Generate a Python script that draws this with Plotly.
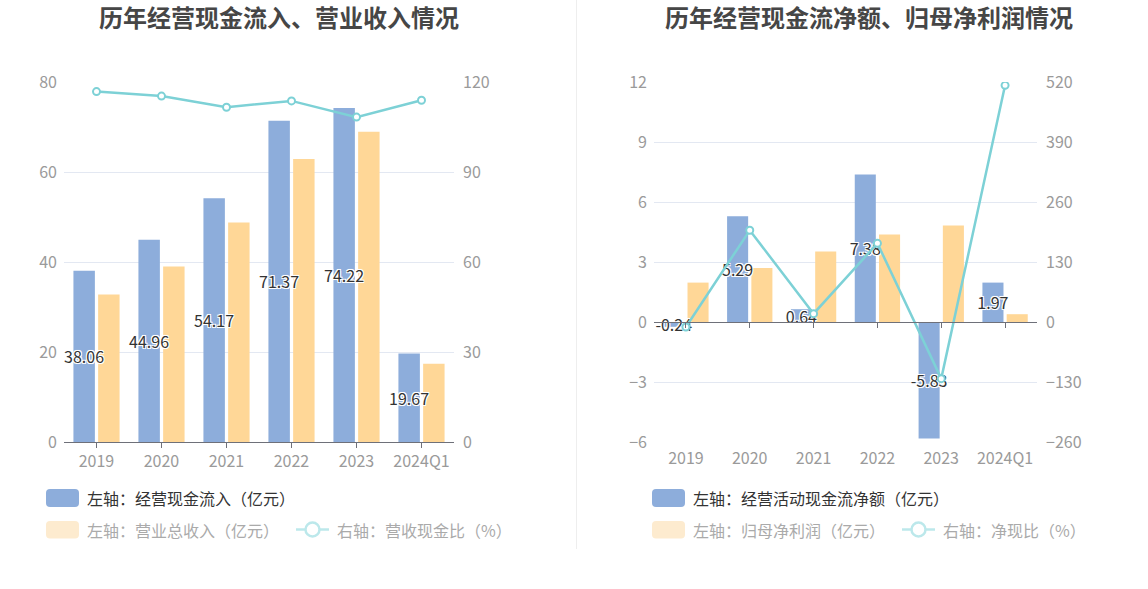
import plotly.graph_objects as go

# ---------------- data ----------------
categories = ["2019", "2020", "2021", "2022", "2023", "2024Q1"]

cash_inflow = [38.06, 44.96, 54.17, 71.37, 74.22, 19.67]          # 经营现金流入（亿元）
total_revenue = [32.8, 39.0, 48.8, 62.9, 68.96, 17.4]             # 营业总收入（亿元）
cash_revenue_ratio = [116.8, 115.3, 111.6, 113.7, 108.3, 113.9]   # 营收现金比（%）

net_op_cash = [-0.24, 5.29, 0.64, 7.38, -5.83, 1.97]              # 经营活动现金流净额（亿元）
net_profit = [1.97, 2.7, 3.53, 4.38, 4.83, 0.39]                  # 归母净利润（亿元）
net_cash_ratio = [-10.8, 198.7, 18.0, 170.5, -122.7, 512.8]       # 净现比（%）

left_y_ticks = [0, 20, 40, 60, 80]
left_y2_ticks = [0, 30, 60, 90, 120]
right_y_ticks = [-6, -3, 0, 3, 6, 9, 12]
right_y2_ticks = [-260, -130, 0, 130, 260, 390, 520]

titles = ["历年经营现金流入、营业收入情况", "历年经营现金流净额、归母净利润情况"]
legend_left = ["左轴：经营现金流入（亿元）", "左轴：营业总收入（亿元）", "右轴：营收现金比（%）"]
legend_right = ["左轴：经营活动现金流净额（亿元）", "左轴：归母净利润（亿元）", "右轴：净现比（%）"]

# ---------------- style ----------------
W, H = 1148, 589
L, R, T, B = 64, 1037, 82, 442
BLUE = "#8DADDB"
ORANGE = "#FFD797"
TEAL = "#7DD1D6"
FADE_ORANGE = "#FDEBCF"
FADE_TEAL = "#BCE8EB"
FONT = "Noto Sans CJK SC"
TICK_COLOR = "#9A9A9A"
GRID = "#E3E8F2"
AXIS = "#6E7079"
SHADOW = "1px 1px 0 #fff, -1px -1px 0 #fff, 1px -1px 0 #fff, -1px 1px 0 #fff, 0 0 2px #fff"
BAR_W = 0.33
BLUE_OFF = -0.355
ORANGE_OFF = 0.025


def px(x):
    return (x - L) / (R - L)


def py(y):
    return (B - y) / (B - T)


fig = go.Figure()

label_font = dict(family=FONT, size=16, color="#333333", shadow=SHADOW)


def add_panel(xa, ya, ya2, bar_main, bar_second, ratio):
    # second (orange) bars first so the blue bars' labels sit on top of them
    fig.add_trace(go.Bar(x=categories, y=bar_second, marker_color=ORANGE, xaxis=xa, yaxis=ya,
                         width=BAR_W, offset=ORANGE_OFF, marker_line_width=0,
                         showlegend=False, hoverinfo="skip"))
    fig.add_trace(go.Bar(x=categories, y=bar_main, marker_color=BLUE, xaxis=xa, yaxis=ya,
                         width=BAR_W, offset=BLUE_OFF, marker_line_width=0,
                         text=[f"{v:.2f}" for v in bar_main], textposition="inside",
                         insidetextanchor="middle", textangle=0, constraintext="none",
                         textfont=label_font, showlegend=False, hoverinfo="skip"))
    fig.add_trace(go.Scatter(x=categories, y=ratio, xaxis=xa, yaxis=ya2,
                             mode="lines+markers", line=dict(color=TEAL, width=2.5),
                             marker=dict(symbol="circle", size=7, color="white",
                                         line=dict(color=TEAL, width=2)),
                             showlegend=False, hoverinfo="skip"))


add_panel("x", "y", "y3", cash_inflow, total_revenue, cash_revenue_ratio)
add_panel("x2", "y2", "y4", net_op_cash, net_profit, net_cash_ratio)

# invisible helper for the bottom label axis of right chart
fig.add_trace(go.Scatter(x=categories, y=[0] * len(categories), xaxis="x4", yaxis="y2",
                         mode="markers", marker=dict(opacity=0), showlegend=False,
                         hoverinfo="skip"))

tickfont = dict(family=FONT, size=16, color=TICK_COLOR)

xcommon = dict(type="category", categoryorder="array", categoryarray=categories,
               range=[-0.5, len(categories) - 0.5], showgrid=False, zeroline=False,
               tickfont=tickfont, fixedrange=True)

fig.update_layout(
    width=W, height=H,
    margin=dict(l=L, r=W - R, t=T, b=H - B, pad=0),
    paper_bgcolor="white", plot_bgcolor="white",
    barmode="overlay",
    font=dict(family=FONT),
    xaxis=dict(domain=[0, px(454)], anchor="y", showline=True, linecolor=AXIS, linewidth=1,
               ticks="outside", ticklen=5, tickcolor=AXIS, ticklabelstandoff=0, **xcommon),
    yaxis=dict(domain=[0, 1], anchor="x", range=[0, 80], tickvals=left_y_ticks,
               showgrid=True, gridcolor=GRID, zeroline=False, showline=False,
               tickfont=tickfont, ticklabelstandoff=6, fixedrange=True),
    yaxis3=dict(overlaying="y", side="right", anchor="x", range=[0, 120],
                tickvals=left_y2_ticks, showgrid=False, zeroline=False, showline=False,
                tickfont=tickfont, ticklabelstandoff=8, fixedrange=True),
    xaxis2=dict(domain=[px(654), 1], anchor="free", position=1 / 3,
                showline=True, linecolor=AXIS, linewidth=1, ticks="outside", ticklen=5,
                tickcolor=AXIS, showticklabels=False, **xcommon),
    xaxis4=dict(domain=[px(654), 1], anchor="y2", overlaying="x2", side="bottom",
                showline=False, ticks="", showticklabels=True, ticklabelstandoff=5,
                **xcommon),
    yaxis2=dict(domain=[0, 1], anchor="x2", range=[-6, 12], tickvals=right_y_ticks,
                showgrid=True, gridcolor=GRID, zeroline=False, showline=False,
                tickfont=tickfont, ticklabelstandoff=6, fixedrange=True),
    yaxis4=dict(overlaying="y2", side="right", anchor="x2", range=[-260, 520],
                tickvals=right_y2_ticks, showgrid=False, zeroline=False, showline=False,
                tickfont=tickfont, ticklabelstandoff=8, fixedrange=True),
)

annotations = []
shapes = []

# titles
for title, cx in zip(titles, [279, 869]):
    annotations.append(dict(text=f"<b>{title}</b>", x=px(cx), y=py(17), xref="paper", yref="paper",
                            showarrow=False, xanchor="center", yanchor="middle",
                            font=dict(family=FONT, size=24, color="#464646")))

# divider
shapes.append(dict(type="line", xref="paper", yref="paper", x0=px(576.5), x1=px(576.5),
                   y0=py(0), y1=py(549), line=dict(color="#EEEEEE", width=1)))


def rounded_rect(x0, y0, x1, y1, r, color):
    X = lambda v: px(v)
    Y = lambda v: py(v)
    path = (f"M {X(x0 + r)},{Y(y0)} L {X(x1 - r)},{Y(y0)} Q {X(x1)},{Y(y0)} {X(x1)},{Y(y0 + r)} "
            f"L {X(x1)},{Y(y1 - r)} Q {X(x1)},{Y(y1)} {X(x1 - r)},{Y(y1)} "
            f"L {X(x0 + r)},{Y(y1)} Q {X(x0)},{Y(y1)} {X(x0)},{Y(y1 - r)} "
            f"L {X(x0)},{Y(y0 + r)} Q {X(x0)},{Y(y0)} {X(x0 + r)},{Y(y0)} Z")
    return dict(type="path", xref="paper", yref="paper", path=path, fillcolor=color,
                line=dict(width=0), layer="above")


def legend_block(sx, texts, line_x0):
    # row 1
    shapes.append(rounded_rect(sx, 489, sx + 33, 507, 4, BLUE))
    annotations.append(dict(text=texts[0], x=px(sx + 39), y=py(498), xref="paper", yref="paper",
                            showarrow=False, xanchor="left", yanchor="middle",
                            font=dict(family=FONT, size=16, color="#333333")))
    # row 2
    shapes.append(rounded_rect(sx, 521, sx + 33, 538.5, 4, FADE_ORANGE))
    annotations.append(dict(text=texts[1], x=px(sx + 39), y=py(529.5), xref="paper", yref="paper",
                            showarrow=False, xanchor="left", yanchor="middle",
                            font=dict(family=FONT, size=16, color="#AAAAAA")))
    shapes.append(dict(type="line", xref="paper", yref="paper", x0=px(line_x0), x1=px(line_x0 + 33),
                       y0=py(529.5), y1=py(529.5), line=dict(color=FADE_TEAL, width=2.5)))
    cx = line_x0 + 16.5
    shapes.append(dict(type="circle", xref="paper", yref="paper", x0=px(cx - 7), x1=px(cx + 7),
                       y0=py(536.5), y1=py(522.5), fillcolor="white",
                       line=dict(color=FADE_TEAL, width=2.5)))
    annotations.append(dict(text=texts[2], x=px(line_x0 + 39), y=py(529.5), xref="paper", yref="paper",
                            showarrow=False, xanchor="left", yanchor="middle",
                            font=dict(family=FONT, size=16, color="#AAAAAA")))


legend_block(46, legend_left, 296)
legend_block(652, legend_right, 902)

fig.update_layout(annotations=annotations, shapes=shapes)

fig.write_html("out.html", config={"displayModeBar": False},
               post_script="document.body.style.margin='0';")
